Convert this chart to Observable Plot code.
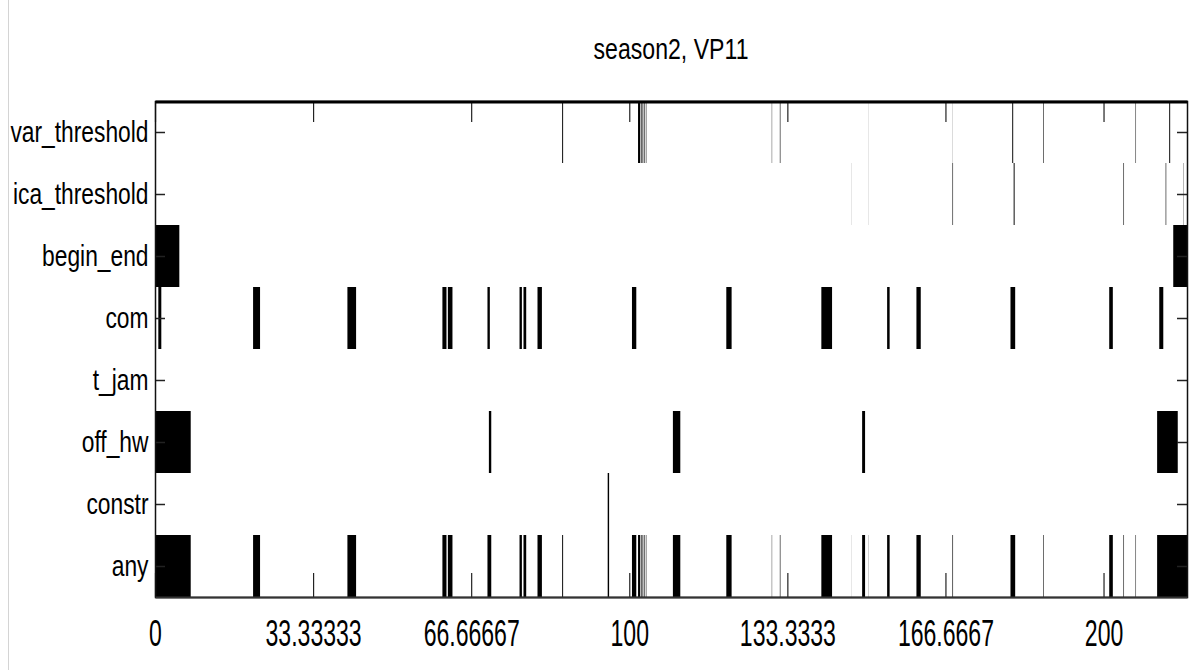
<!DOCTYPE html>
<html>
<head>
<meta charset="utf-8">
<script src="https://cdn.jsdelivr.net/npm/d3@7"></script>
<script src="https://cdn.jsdelivr.net/npm/@observablehq/plot@0.6"></script>
<style>
  body { margin: 0; background: #fff; }
  #wrap { position: relative; width: 1193px; height: 670px; overflow: hidden; font-family: "Liberation Sans", Arial, sans-serif; background: #fff; }
  #title { position: absolute; left: 0; top: 34px; width: 1342px; text-align: center; font-size: 30px; line-height: 30px; color: #000; transform: scaleX(0.77); transform-origin: 671px 50%; white-space: nowrap; }
  #border { position: absolute; left: 8px; top: 0; width: 1px; height: 670px; background: #d4d4d4; z-index: 2; }
  #chart { position: absolute; left: 0; top: 80px; }
</style>
</head>
<body>
<div id="wrap">
  <div id="title">season2, VP11</div>
  <div id="chart"></div>
  <div id="border"></div>
</div>
<script>
// ---- data ----
const categories = ["var_threshold", "ica_threshold", "begin_end", "com", "t_jam", "off_hw", "constr", "any"];
const xTicks = [0, 33.33333, 66.66667, 100, 133.3333, 166.6667, 200];
const xTickLabels = ["0", "33.33333", "66.66667", "100", "133.3333", "166.6667", "200"];
const xEnd = 217.6;

const varThreshold = [[85.85,86.05],[101.85,102.3],[102.45,102.6],[102.8,102.95],[103.2,103.32],[103.5,103.6],[130.05,130.12],[131.75,131.87],[150.4,150.42],[168.1,168.13],[180.75,180.95],[187.3,187.42],[206.75,206.85],[213.85,214.05]];
const icaThreshold = [[146.8,146.82],[150.4,150.42],[168.15,168.27],[181.05,181.25],[204.2,204.32],[213.1,213.22],[216.9,216.96]];
const beginEnd = [[0,5.13],[214.7,217.6]];
const com = [[0.7,1.33],[20.68,22.15],[40.57,42.4],[60.6,61.46],[61.75,62.72],[70.1,70.6],[76.86,77.36],[77.7,78.27],[80.65,81.58],[100.57,101.48],[120.46,121.58],[140.5,142.76],[154.37,154.9],[160.55,161.46],[180.38,181.37],[201.2,201.96],[211.75,212.6]];
const tJam = [];
const offHw = [[0,7.53],[70.4,70.9],[109.2,110.76],[149.1,149.72],[211.3,215.65]];
const constr = [[95.45,95.75]];

// ---- table ----
const rowsByCat = {
  var_threshold: varThreshold, ica_threshold: icaThreshold, begin_end: beginEnd,
  com: com, t_jam: tJam, off_hw: offHw, constr: constr
};
const table = [];
for (const [cat, ivs] of Object.entries(rowsByCat)) {
  for (const [a, b] of ivs) {
    table.push({row: cat, x1: a, x2: b});
    table.push({row: "any", x1: a, x2: b});
  }
}

const W = 1193, H = 590;
const mL = 155, mR = 6, mT = 21, mB = 73;
const frameH = H - mT - mB;
const frameW = W - mL - mR;

const chart = Plot.plot({
  width: W, height: H,
  marginLeft: mL, marginRight: mR, marginTop: mT, marginBottom: mB,
  style: {fontFamily: "'Liberation Sans', Arial, sans-serif", color: "black", background: "white"},
  x: {domain: [0, xEnd]},
  y: {domain: categories, padding: 0},
  marks: [
    Plot.barX(table, {x1: "x1", x2: "x2", y: "row", fill: "black", insetTop: 0, insetBottom: 0}),
    // x ticks (inward, top and bottom)
    Plot.ruleX(xTicks, {x: d => d, insetBottom: frameH - 21, stroke: "#222", strokeWidth: 1.2}),
    Plot.ruleX(xTicks, {x: d => d, insetTop: frameH - 24, stroke: "#222", strokeWidth: 1.2}),
    // y ticks (inward, left and right)
    Plot.ruleY(categories, {y: d => d, insetRight: frameW - 10, stroke: "#222", strokeWidth: 1.5}),
    Plot.ruleY(categories, {y: d => d, insetLeft: frameW - 10, stroke: "#222", strokeWidth: 1.5}),
    // frame
    Plot.frame({stroke: "#111", strokeWidth: 1.5}),
    Plot.frame({fill: "black", stroke: null, insetBottom: frameH - 2, insetTop: -1}),
    Plot.frame({fill: "#333", stroke: null, insetTop: frameH - 1, insetBottom: -1}),
    Plot.axisY({tickSize: 0, tickPadding: 7, fontSize: 30, label: null}),
    Plot.axisX({ticks: xTicks, tickFormat: d => xTickLabels[xTicks.indexOf(d)], tickSize: 0, tickPadding: 23, fontSize: 36, label: null})
  ]
});

function scaleText(t, s) {
  const x = parseFloat(t.getAttribute("x") || 0) || 0;
  const y = parseFloat(t.getAttribute("y") || 0) || 0;
  const tr = t.getAttribute("transform") || "";
  t.setAttribute("transform", `${tr} translate(${x},${y}) scale(${s},1) translate(${-x},${-y})`);
}
chart.querySelectorAll("g[aria-label]").forEach(g => {
  const lab = g.getAttribute("aria-label");
  if (lab.startsWith("x-axis tick label")) g.querySelectorAll("text").forEach(t => scaleText(t, 0.64));
  if (lab.startsWith("y-axis tick label")) g.querySelectorAll("text").forEach(t => scaleText(t, 0.76));
});

document.getElementById("chart").appendChild(chart);
</script>
</body>
</html>
